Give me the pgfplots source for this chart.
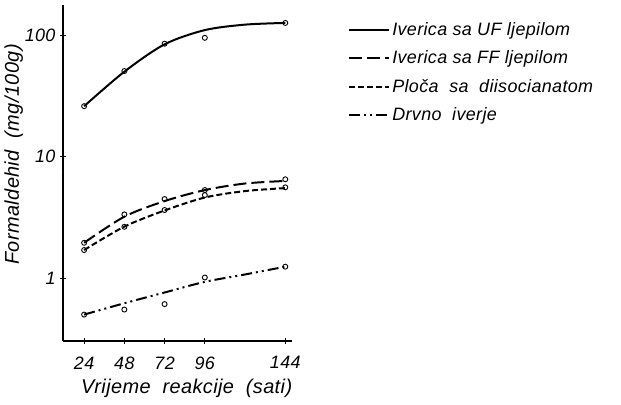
\documentclass[border=0pt]{standalone}
\usepackage{fontspec}
\setmainfont{Liberation Sans}[LetterSpace=2]
\usepackage{pgfplots}
\pgfplotsset{compat=1.18}

% measured points
\pgfplotstableread{
x y
24 26
48 50.6
72 85
96 95
144 126
}\uf
\pgfplotstableread{
x y
24 1.95
48 3.34
72 4.47
96 5.3
144 6.5
}\ff
\pgfplotstableread{
x y
24 1.70
48 2.64
72 3.63
96 4.82
144 5.58
}\diiso
\pgfplotstableread{
x y
24 0.50
48 0.55
72 0.61
96 1.01
144 1.24
}\drvo

\begin{document}
\begin{tikzpicture}[x=1bp,y=1bp]
\useasboundingbox (0,0) rectangle (621,404);
\begin{axis}[
    at={(63bp,63bp)}, anchor=south west,
    scale only axis, width=229bp, height=336bp,
    ymode=log,
    xmin=11.4, xmax=148, ymin=0.303, ymax=177,
    axis lines=left,
    axis line style={-, line width=1.5pt},
    xtick={24,48,72,96,144},
    ytick={1,10,100}, yticklabels={1,10,100},
    minor ytick={},
    tick align=center, major tick length=6bp,
    tick style={line width=0.9pt, black},
    /pgf/number format/assume math mode=true,
    tick label style={font=\fontsize{18}{20}\selectfont\itshape},
    xticklabel style={yshift=-9bp},
    yticklabel style={xshift=-1bp},
    xlabel={Vrijeme\ \ reakcije\ \ (sati)},
    ylabel={Formaldehid\ \ (mg/100g)},
    label style={font=\fontsize{20}{22}\selectfont\itshape},
    xlabel style={at={(axis description cs:0.54,-0.14)}, anchor=center},
    ylabel style={at={(axis description cs:-0.215,0.555)}, anchor=center},
    legend style={at={(axis description cs:1.245,0.955)}, anchor=north west,
        draw=none, fill=none, font=\fontsize{18}{20}\selectfont\itshape,
        row sep=10bp, inner sep=0pt},
    legend cell align=left,
    every axis legend/.append style={/tikz/every even column/.append style={column sep=2bp}},
    legend image code/.code={\draw[#1] (0bp,0bp) -- (40bp,0bp);},
    clip=false,
]
% fitted curves
\addplot[black, line width=2pt, smooth] coordinates {
(24,26) (48,50) (72,84) (96,110) (120,122) (144,126)};
\addlegendentry{Iverica\ sa\ UF\ ljepilom}
\addplot[black, line width=2pt, smooth, dash pattern=on 13bp off 5bp] coordinates {
(24,1.95) (48,3.2) (72,4.3) (96,5.3) (120,6.0) (144,6.3)};
\addlegendentry{Iverica\ sa\ FF\ ljepilom}
\addplot[black, line width=2pt, smooth, dash pattern=on 6bp off 3bp] coordinates {
(24,1.7) (48,2.65) (72,3.6) (96,4.6) (120,5.2) (144,5.5)};
\addlegendentry{Ploča\ \ sa\ \ diisocianatom}
\addplot[black, line width=2pt, smooth, dash pattern=on 11bp off 4bp on 2bp off 4bp on 2bp off 4bp] coordinates {
(24,0.5) (48,0.62) (72,0.76) (96,0.93) (120,1.07) (144,1.24)};
\addlegendentry{Drvno\ \ iverje}
% measured points
\addplot[only marks, mark=o, mark size=2.5bp, line width=0.9pt, black, forget plot] table {\uf};
\addplot[only marks, mark=o, mark size=2.5bp, line width=0.9pt, black, forget plot] table {\ff};
\addplot[only marks, mark=o, mark size=2.5bp, line width=0.9pt, black, forget plot] table {\diiso};
\addplot[only marks, mark=o, mark size=2.5bp, line width=0.9pt, black, forget plot] table {\drvo};
\end{axis}
\end{tikzpicture}
\end{document}
